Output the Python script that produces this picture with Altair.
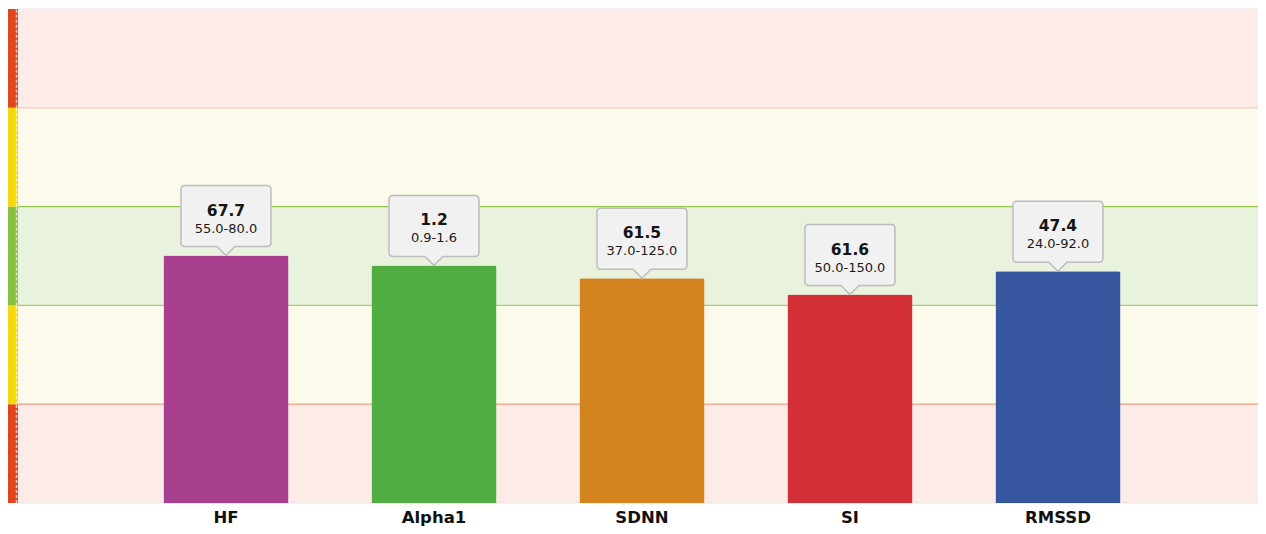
import altair as alt
import pandas as pd

# ---- data ----
names = ["HF", "Alpha1", "SDNN", "SI", "RMSSD"]
value_labels = ["67.7", "1.2", "61.5", "61.6", "47.4"]
range_labels = ["55.0-80.0", "0.9-1.6", "37.0-125.0", "50.0-150.0", "24.0-92.0"]
scores = [50.1, 48.1, 45.5, 42.2, 46.9]          # bar height on the 0-100 zone scale
bar_colors = ["#A8408F", "#4FAD41", "#D4841F", "#D22F36", "#36579F"]

band_lo = [0, 20, 40, 60, 80]
band_hi = [20, 40, 60, 80, 100]
band_fill = ["#FCEBE6", "#FCFBEB", "#E8F2DD", "#FCFBEB", "#FCEBE6"]
stripe_colors = ["#E2461C", "#F5D90A", "#87C03F", "#F5D90A", "#E2461C"]

line_pos = [0, 20, 40, 60, 80, 100]
line_colors = ["#E6E6E6", "#F39B7F", "#A5D16A", "#93C84E", "#F8C8B6", "#ECECEC"]

bars = pd.DataFrame({"name": names, "val": value_labels, "rng": range_labels,
                     "score": scores, "color": bar_colors})
bands = pd.DataFrame({"lo": band_lo, "hi": band_hi, "fill": band_fill, "stripe": stripe_colors})
lines = pd.DataFrame({"pos": line_pos, "color": line_colors})

W, H = 1240, 494
LABEL_FONT = "DejaVu Sans"

yscale = alt.Scale(domain=[0, 100], nice=False, zero=True)
xscale = alt.Scale(domain=names, paddingInner=0.399, paddingOuter=0.6803, align=0.514)

bg = alt.Chart(bands).mark_rect().encode(
    x=alt.value(0), x2=alt.value(W),
    y=alt.Y("lo:Q", scale=yscale, axis=None), y2="hi:Q",
    color=alt.Color("fill:N", scale=None),
)

stripe = alt.Chart(bands).mark_rect(clip=False).encode(
    x=alt.value(-10), x2=alt.value(0),
    y=alt.Y("lo:Q", scale=yscale, axis=None), y2="hi:Q",
    color=alt.Color("stripe:N", scale=None),
)

stripe_dash = alt.Chart(bands).mark_rule(clip=False, strokeDash=[3, 2], strokeWidth=1.5,
                                         color="#FFFFFF", opacity=0.7).encode(
    x=alt.value(-1.5),
    y=alt.Y("lo:Q", scale=yscale, axis=None), y2="hi:Q",
)

rules = alt.Chart(lines).mark_rule(strokeWidth=1.2).encode(
    x=alt.value(0), x2=alt.value(W),
    y=alt.Y("pos:Q", scale=yscale, axis=None),
    color=alt.Color("color:N", scale=None),
)

bar = alt.Chart(bars).mark_bar(cornerRadiusTopLeft=2, cornerRadiusTopRight=2).encode(
    x=alt.X("name:N", scale=xscale, sort=names,
            axis=alt.Axis(title=None, labelAngle=0, ticks=False, domain=False, grid=False,
                          labelFont=LABEL_FONT, labelFontSize=16.5, labelFontWeight="bold",
                          labelColor="#111111", labelPadding=6)),
    y=alt.Y("score:Q", scale=yscale, axis=None),
    color=alt.Color("color:N", scale=None),
)

callout_path = ("M -0.82 -1.4 L 0.82 -1.4 Q 0.9 -1.4 0.9 -1.32 L 0.9 -0.26 "
                "Q 0.9 -0.18 0.82 -0.18 L 0.18 -0.18 L 0 0 L -0.18 -0.18 L -0.82 -0.18 "
                "Q -0.9 -0.18 -0.9 -0.26 L -0.9 -1.32 Q -0.9 -1.4 -0.82 -1.4 Z")

box = alt.Chart(bars).mark_point(shape=callout_path, size=10000, filled=True, opacity=1,
                                 fill="#F1F1F1", stroke="#BDBDBD", strokeWidth=1.5).encode(
    x=alt.X("name:N", scale=xscale, sort=names),
    y=alt.Y("score:Q", scale=yscale, axis=None),
)

val_text = alt.Chart(bars).mark_text(font=LABEL_FONT, fontSize=15.5, fontWeight="bold", color="#151515",
                                     baseline="middle", dy=-45).encode(
    x=alt.X("name:N", scale=xscale, sort=names),
    y=alt.Y("score:Q", scale=yscale, axis=None),
    text="val:N",
)

rng_text = alt.Chart(bars).mark_text(font=LABEL_FONT, fontSize=13, color="#1a1a1a",
                                     baseline="middle", dy=-27).encode(
    x=alt.X("name:N", scale=xscale, sort=names),
    y=alt.Y("score:Q", scale=yscale, axis=None),
    text="rng:N",
)

chart = alt.layer(bg, rules, stripe, stripe_dash, bar, box, val_text, rng_text).properties(
    width=W, height=H,
    autosize="none",
    padding={"left": 10, "top": 1, "right": 0, "bottom": 23},
).configure_view(strokeWidth=0)

chart.save("out.html", embed_options={"renderer": "svg", "actions": False})
